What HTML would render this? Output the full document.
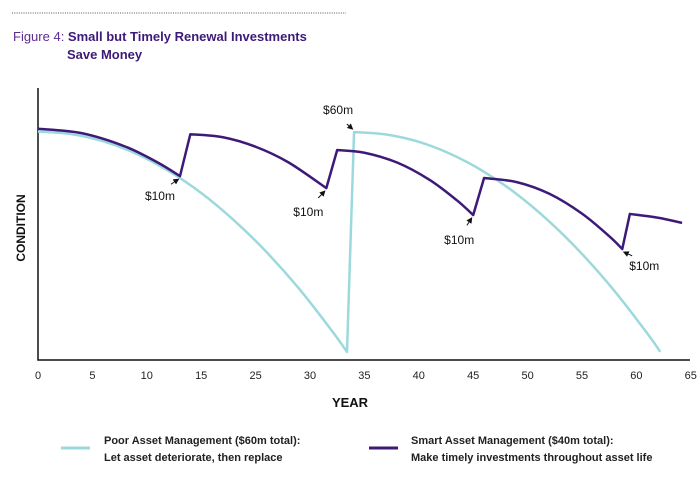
<!DOCTYPE html>
<html><head><meta charset="utf-8"><style>
body{margin:0;background:#fff;width:700px;height:479px;overflow:hidden;font-family:"Liberation Sans",sans-serif}
</style></head><body>
<svg id="chart" width="700" height="479" viewBox="0 0 700 479" xmlns="http://www.w3.org/2000/svg">
<defs><marker id="ah" viewBox="0 0 6 6" refX="5" refY="3" markerWidth="6" markerHeight="6" orient="auto"><path d="M0 0 L6 3 L0 6 z" fill="#111"/></marker></defs>
<line x1="12" y1="13" x2="346" y2="13" stroke="#555" stroke-width="1" stroke-dasharray="1,1.3"/>
<text x="13" y="41" font-size="13" fill="#5b2d90">Figure 4: <tspan font-weight="bold" fill="#3d1a78">Small but Timely Renewal Investments</tspan></text>
<text x="67" y="59" font-size="13" font-weight="bold" fill="#3d1a78">Save Money</text>
<text transform="translate(25,228) rotate(-90)" text-anchor="middle" font-family="'Liberation Sans Narrow','Liberation Sans',sans-serif" font-weight="bold" font-size="12" fill="#111">CONDITION</text>
<text x="350" y="407" text-anchor="middle" font-family="'Liberation Sans Narrow','Liberation Sans',sans-serif" font-weight="bold" font-size="13" fill="#111">YEAR</text>
<g id="plot"></g>
<g>
<line x1="61" y1="448" x2="90" y2="448" stroke="#9dd9dc" stroke-width="3"/>
<text x="104" y="444" font-size="11" font-weight="bold" fill="#222">Poor Asset Management ($60m total):</text>
<text x="104" y="461" font-size="11" font-weight="bold" fill="#222">Let asset deteriorate, then replace</text>
<line x1="369" y1="448" x2="398" y2="448" stroke="#3d1a78" stroke-width="3"/>
<text x="411" y="444" font-size="11" font-weight="bold" fill="#222">Smart Asset Management ($40m total):</text>
<text x="411" y="461" font-size="11" font-weight="bold" fill="#222">Make timely investments throughout asset life</text>
</g>
</svg>
<script>
const tickLabels = ["0","5","10","15","25","30","35","40","45","50","55","60","65"];
const poorX = [0,3,6,9,12,15,18,21,24,27,28.4,29.05,32,35,38,41,44,47,50,53,56,57.2];
const poorY = [84,83.1,80.4,75.9,69.5,61.4,51.4,39.7,26.2,10.8,3,83.8,82.9,80.2,75.6,69.2,61.0,50.9,39.0,25.3,9.8,3];
const smartX = [0,4,8,11,13.05,14,17,20,23,26.5,27.5,30,33,36,38.5,40,41,44,47,50,52.5,53.7,54.4,57,59.2];
const smartY = [85,83.4,78.5,72.6,67.6,83,81.9,78.4,72.7,63.2,77.2,76.2,72.6,66.2,58.7,53.3,66.9,65.4,61.1,53.8,45.5,40.8,53.7,52.3,50.4];
const annoText = ["$10m","$10m","$60m","$10m","$10m"];
const annoX = [13.05,26.5,29.05,40.0,53.7];
const annoY = [67.6,63.2,83.8,53.3,40.8];
const NS="http://www.w3.org/2000/svg";
const X0=38,X1=690,Y0=360,Y1=88;
function sx(u){return X0+u/5*54.4;}
function sy(c){return Y0-(c/100)*(Y0-Y1);}
const g=document.getElementById('plot');
function mk(t,a){const e=document.createElementNS(NS,t);for(const k in a)e.setAttribute(k,a[k]);g.appendChild(e);return e;}
let ax=mk('path',{d:`M${X0} ${Y1} L${X0} ${Y0} L${X1} ${Y0}`,fill:'none',stroke:'#111','stroke-width':1.5});


tickLabels.forEach((t,i)=>{const e=mk('text',{x:sx(i*5),y:379,'text-anchor':'middle','font-size':11,fill:'#222'});e.textContent=t;

});
function smoothPath(xs,ys){
  const pts=xs.map((x,i)=>[sx(x),sy(ys[i])]);
  // split into segments at near-vertical jumps
  const segs=[[pts[0]]];
  for(let i=1;i<pts.length;i++){
    if(xs[i]-xs[i-1]<1.2){segs.push([pts[i]]);}else segs[segs.length-1].push(pts[i]);
  }
  let d='';
  segs.forEach((s,si)=>{
    d+=(si===0?'M':'L')+s[0][0]+' '+s[0][1];
    for(let i=0;i<s.length-1;i++){
      const p0=s[Math.max(i-1,0)],p1=s[i],p2=s[i+1],p3=s[Math.min(i+2,s.length-1)];
      const c1=[p1[0]+(p2[0]-p0[0])/6,p1[1]+(p2[1]-p0[1])/6];
      const c2=[p2[0]-(p3[0]-p1[0])/6,p2[1]-(p3[1]-p1[1])/6];
      d+=` C${c1[0]} ${c1[1]} ${c2[0]} ${c2[1]} ${p2[0]} ${p2[1]}`;
    }
  });
  return d;
}
function line(xs,ys,col,w){return mk('path',{d:smoothPath(xs,ys),fill:'none',stroke:col,'stroke-width':w,'stroke-linejoin':'round'});}
const p=line(poorX,poorY,'#9dd9dc',2.5);


const s=line(smartX,smartY,'#3d1a78',2.5);


const off=[[-20,18],[-18,22],[-16,-18],[-14,23],[22,15]];
annoText.forEach((t,i)=>{const x=sx(annoX[i]),y=sy(annoY[i]);const o=off[i];
const tx=x+o[0],ty=y+o[1];
const a=mk('line',{x1:x+o[0]*0.45,y1:y+o[1]*0.45,x2:x+(o[0]>0?1:-1)*1.5,y2:y+(o[1]>0?3:-3),stroke:'#111','stroke-width':1,'marker-end':'url(#ah)'});


const e=mk('text',{x:tx,y:ty+(o[1]>0?6:0),'text-anchor':'middle','font-size':12,fill:'#111'});e.textContent=t;

});
</script>
</body></html>
